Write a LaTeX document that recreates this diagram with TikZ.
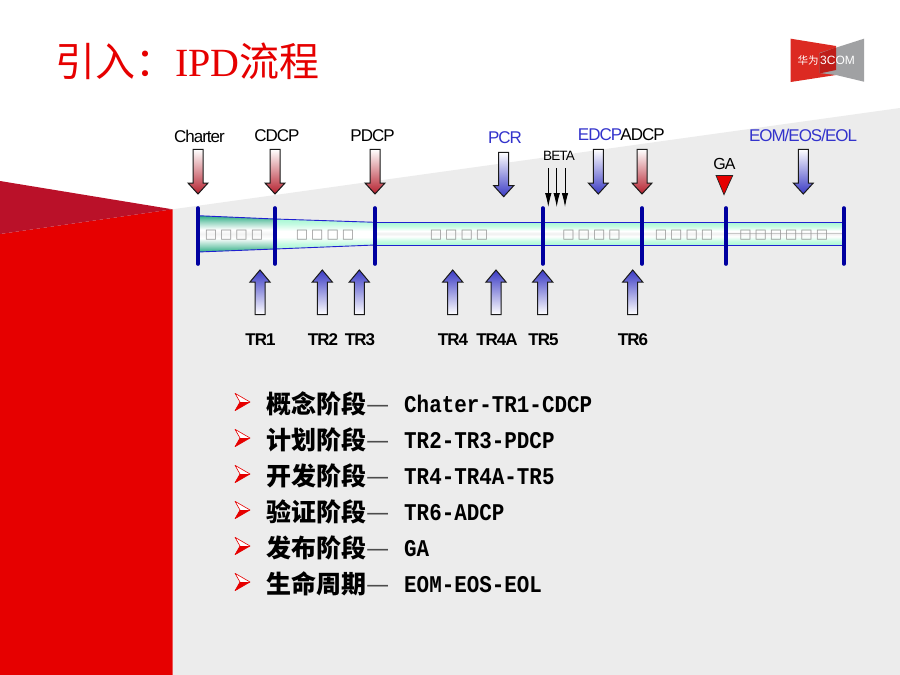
\documentclass[tikz,border=0pt]{standalone}
\usepackage{fontspec}
\usetikzlibrary{arrows.meta}
\setmainfont{Liberation Sans}
\newfontfamily\cjk{Noto Sans CJK SC}
\newfontfamily\labf[LetterSpace=-6]{Liberation Sans}
\newfontfamily\serf{Liberation Serif}
\newfontfamily\monof[FakeStretch=0.87]{Liberation Mono}
\newfontfamily\djv{DejaVu Sans}
\definecolor{bgrey}{HTML}{ECECEC}
\definecolor{mainred}{HTML}{E60000}
\definecolor{darkred}{HTML}{BA1129}
\definecolor{arrred}{HTML}{B5202E}
\definecolor{arrblue}{HTML}{3A3AC4}
\definecolor{lblblue}{HTML}{3333CC}
\definecolor{tick}{HTML}{0000A0}
\definecolor{tube}{HTML}{2020D0}
\definecolor{teal}{HTML}{2FAE85}
\definecolor{mint}{HTML}{A8F8D4}
\definecolor{logored}{HTML}{DC2A22}
\definecolor{logodark}{HTML}{BE1E1A}
\definecolor{logogrey}{HTML}{A0A1A3}
\pgfdeclareverticalshading{tubefirst}{100bp}{color(0bp)=(teal);color(25bp)=(teal);color(33bp)=(teal!55!white);color(44bp)=(white);color(50bp)=(black!5);color(56bp)=(white);color(67bp)=(teal!55!white);color(75bp)=(teal);color(100bp)=(teal)}
\pgfdeclareverticalshading{tubesecond}{100bp}{color(0bp)=(mint);color(25bp)=(mint);color(33bp)=(mint!70!white);color(45bp)=(white);color(55bp)=(white);color(67bp)=(mint!70!white);color(75bp)=(mint);color(100bp)=(mint)}
\pgfdeclareverticalshading{tuberest}{100bp}{color(0bp)=(mint);color(25bp)=(mint);color(34bp)=(mint!65!white);color(44bp)=(white);color(50bp)=(black!6);color(56bp)=(white);color(66bp)=(mint!65!white);color(75bp)=(mint);color(100bp)=(mint)}
\tikzset{
  lab/.style={inner sep=0pt,font={\labf\fontsize{17}{17}\selectfont},text=black},
  blab/.style={lab,text=lblblue},
  tr/.style={inner sep=0pt,font={\labf\bfseries\fontsize{17}{17}\selectfont},text=black},
  tofu/.style={inner sep=0pt,text=black!42,font={\djv\fontsize{13}{13}\selectfont}},
  phase/.style={anchor=base west,inner sep=0pt,text=black,font={\cjk\bfseries\fontsize{25}{25}\selectfont}},
  dashmark/.style={anchor=base west,inner sep=0pt,text=black!70,font={\cjk\fontsize{26}{26}\selectfont}},
  code/.style={anchor=base west,inner sep=0pt,text=black,font={\monof\bfseries\fontsize{24}{24}\selectfont}},
  ticker/.style={tick,line width=3.6pt,line cap=round},
  blockarrow/.style={draw=black!90,line width=1pt,line join=miter},
  tubeedge/.style={draw=tube,line width=0.9pt},
}
\newcommand{\arrdown}[4]{% x, top, tip, colour
  \path[blockarrow,top color=white,bottom color=#4]
    (#1-5,#2) -- (#1+5,#2) -- (#1+5,#3-11) -- (#1+10,#3-11) -- (#1,#3) -- (#1-10,#3-11) -- (#1-5,#3-11) -- cycle;}
\newcommand{\arrup}[2]{% x, colour
  \path[blockarrow,bottom color=white,top color=#2]
    (#1-5,314.5) -- (#1+5,314.5) -- (#1+5,282) -- (#1+10,282) -- (#1,270) -- (#1-10,282) -- (#1-5,282) -- cycle;}
\newcommand{\bulletmark}[1]{%
  \fill[white] (235,#1-8.7) -- (250,#1) -- (240,#1) -- cycle;
  \draw[mainred,line width=0.6pt,line join=round] (235,#1-8.7) -- (250,#1) -- (235,#1+8.7) -- (240,#1) -- cycle;
  \fill[mainred] (250,#1) -- (235,#1+8.7) -- (240,#1) -- cycle;}
\newcommand{\tofugap}{\hspace{3pt}}
\begin{document}
\begin{tikzpicture}[x=1pt,y=-1pt]
\useasboundingbox (0,0) rectangle (900,675);
\fill[white] (0,0) rectangle (900,675);
% background
\fill[bgrey] (172.5,209.3) -- (900,108) -- (900,675) -- (172.5,675) -- cycle;
\fill[mainred] (0,234) -- (172.5,209.3) -- (172.5,675) -- (0,675) -- cycle;
\fill[darkred] (0,181) -- (172.5,209.3) -- (0,234) -- cycle;
% title
\node[anchor=base west,inner sep=0pt,text=mainred] (title) at (55,76)
  {\fontsize{40}{40}\selectfont{\cjk 引入^^^^ff1a}{\serf IPD}{\cjk 流程}};
% logo
\fill[logored] (790.7,38.7) -- (836,46) -- (836,75) -- (790.7,82) -- cycle;
\fill[logogrey] (864,38.7) -- (819.3,53) -- (819.3,73) -- (836,75) -- (864,81.7) -- cycle;
\fill[logodark] (819.3,53.5) -- (836,47.5) -- (836,70) -- (819.3,73.5) -- cycle;
\node[inner sep=0pt,text=white,font={\cjk\fontsize{10.5}{10.5}\selectfont}] (logocn) at (808,60.5) {华为};
\node[inner sep=0pt,text=white,font={\fontsize{12}{12}\selectfont}] (logoen) at (837.5,60.5) {3COM};
% tube
\path[tubeedge,shading=tubefirst]
  (198,215.7) -- (275,219) -- (275,249) -- (198,252) -- cycle;
\path[tubeedge,shading=tubesecond]
  (275,219) -- (375,222.3) -- (375,245) -- (275,249) -- cycle;
\path[tubeedge,shading=tuberest]
  (375,222.3) -- (843.7,222.3) -- (843.7,245) -- (375,245) -- cycle;
\draw[black!22,line width=0.7pt] (726,233.5) -- (843.7,233.5);
% tofu texts
\node[tofu] (s1) at (234,235) {□\tofugap□\tofugap□\tofugap□};
\node[tofu] (s2) at (325,235) {□\tofugap□\tofugap□\tofugap□};
\node[tofu] (s3) at (459,235) {□\tofugap□\tofugap□\tofugap□};
\node[tofu] (s4) at (591.5,235) {□\tofugap□\tofugap□\tofugap□};
\node[tofu] (s5) at (684,235) {□\tofugap□\tofugap□\tofugap□};
\node[tofu] (s6) at (783.7,235) {□\tofugap□\tofugap□\tofugap□\tofugap□\tofugap□};
% ticks
\foreach \x in {198,275,375,542.7,642,726,843.7}
  \draw[ticker] (\x,208) -- (\x,264);
% top arrows
\arrdown{198}{149.3}{194}{arrred}
\arrdown{275}{149.3}{194}{arrred}
\arrdown{375}{149.3}{194}{arrred}
\arrdown{503.7}{152.3}{196.7}{arrblue}
\arrdown{598.3}{149.3}{194}{arrblue}
\arrdown{642}{149.3}{194}{arrred}
\arrdown{803.3}{149.3}{194}{arrblue}
% GA marker
\draw[fill=mainred,draw=black!85,line width=0.7pt] (716,175.5) -- (732.7,175.5) -- (724,194.7) -- cycle;
% BETA arrows
\node[lab,font={\labf\fontsize{13.5}{13.5}\selectfont}] (beta) at (559,156) {BETA};
\foreach \i/\x in {1/548.3,2/556.7,3/565}{
  \coordinate (bs\i) at (\x,168.3);
  \coordinate (be\i) at (\x,207);
  \draw[black,line width=0.9pt,-{Latex[length=14pt,width=6.5pt]}] (bs\i) -- (be\i);
}
% bottom arrows
\arrup{260}{arrblue}
\arrup{322.3}{arrblue}
\arrup{359.3}{arrblue}
\arrup{452.7}{arrblue}
\arrup{496}{arrblue}
\arrup{542.7}{arrblue}
\arrup{632.7}{arrblue}
% labels
\node[lab] (charter) at (199.5,136) {Charter};
\node[lab] (cdcp) at (277,136) {CDCP};
\node[lab] (pdcp) at (372.5,136) {PDCP};
\node[blab] (pcr) at (505,138) {PCR};
\node[blab] (edcp) at (600,135) {EDCP};
\node[lab] (adcp) at (642.5,135) {ADCP};
\node[blab] (eom) at (803,135) {EOM/EOS/EOL};
\node[lab,font={\labf\fontsize{16}{16}\selectfont}] (ga) at (724.5,164) {GA};
\node[tr] (tr1) at (260.5,340) {TR1};
\node[tr] (tr2) at (323,340) {TR2};
\node[tr] (tr3) at (360,340) {TR3};
\node[tr] (tr4) at (453,340) {TR4};
\node[tr] (tr4a) at (497,340) {TR4A};
\node[tr] (tr5) at (543.5,340) {TR5};
\node[tr] (tr6) at (633,340) {TR6};
% list
\foreach \i/\yy/\ph/\cd in {
  1/0/概念阶段/Chater-TR1-CDCP,
  2/36/计划阶段/TR2-TR3-PDCP,
  3/72/开发阶段/TR4-TR4A-TR5,
  4/108/验证阶段/TR6-ADCP,
  5/144/发布阶段/GA,
  6/180/生命周期/EOM-EOS-EOL}{
  \bulletmark{402+\yy}
  \node[phase] (ph\i) at (266,413+\yy) {\ph};
  \node[dashmark] (d\i) at (366,413+\yy) {—};
  \node[code] (c\i) at (404,412+\yy) {\cd};
}
\end{tikzpicture}
\end{document}
